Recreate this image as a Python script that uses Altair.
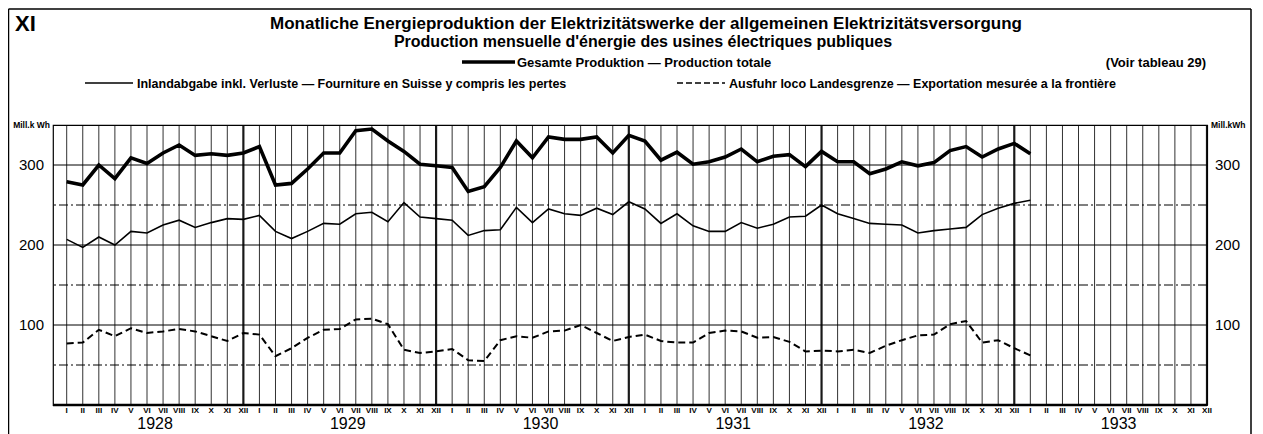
import altair as alt
import pandas as pd

# ---------------- data (Mill. kWh), Jan 1928 .. Jan 1933 ----------------
roman = ["I", "II", "III", "IV", "V", "VI", "VII", "VIII", "IX", "X", "XI", "XII"]
years = [1928, 1929, 1930, 1931, 1932, 1933]

total = [279, 275, 300, 283, 309, 302, 315, 325, 312, 314, 312, 315,
         323, 275, 277, 295, 315, 315, 343, 345, 330, 317, 301, 299,
         297, 267, 273, 297, 330, 309, 335, 332, 332, 335, 315, 337,
         330, 306, 316, 301, 304, 310, 320, 304, 311, 313, 298, 317,
         304, 304, 289, 295, 304, 299, 303, 318, 323, 310, 320, 327,
         314]

inland = [207, 197, 210, 200, 217, 215, 225, 231, 222, 228, 233, 232,
          237, 217, 208, 217, 227, 226, 239, 241, 229, 253, 235, 233,
          231, 212, 218, 219, 247, 228, 245, 239, 237, 246, 238, 254,
          245, 227, 239, 224, 217, 217, 228, 221, 226, 235, 236, 250,
          239, 233, 227, 226, 225, 215, 218, 220, 222, 238, 246, 252,
          256]

export = [77, 78, 94, 86, 96, 90, 92, 95, 92, 86, 80, 90,
          88, 61, 71, 84, 94, 95, 107, 108, 101, 69, 65, 67,
          70, 56, 55, 81, 86, 84, 92, 93, 100, 90, 80, 85,
          88, 80, 78, 78, 90, 93, 92, 84, 85, 79, 67, 68,
          67, 69, 65, 74, 81, 87, 88, 101, 105, 78, 81, 71,
          62]

y_labels = [100, 200, 300]
y_grid_solid = [100, 200, 300]
y_grid_dash = [50, 150, 250]

# ---------------- tables ----------------
n = len(total)
series = pd.DataFrame({"idx": list(range(n)), "total": total, "inland": inland, "export": export})

months = pd.DataFrame({
    "idx": list(range(12 * len(years))),
    "label": [roman[i % 12] for i in range(12 * len(years))],
    "dec": [(i % 12) == 11 for i in range(12 * len(years))],
})
year_df = pd.DataFrame({"idx": [12 * k + 5.5 for k in range(len(years))],
                        "label": [str(y) for y in years]})

W, H = 1154, 280
FONT = "Liberation Sans"

xs = alt.Scale(domain=[-0.853, 71], nice=False, zero=False)
ys = alt.Scale(domain=[0, 350], nice=False, zero=True)

X = alt.X("idx:Q", scale=xs, axis=None)

# grid
vlines = alt.Chart(months).mark_rule(color="black", opacity=0.9).encode(
    x=X,
    strokeWidth=alt.condition("datum.dec", alt.value(2.2), alt.value(0.9)),
)
hsolid = alt.Chart(pd.DataFrame({"v": y_grid_solid})).mark_rule(color="black", strokeWidth=1).encode(
    y=alt.Y("v:Q", scale=ys, axis=None))
hdash = alt.Chart(pd.DataFrame({"v": y_grid_dash})).mark_rule(
    color="black", strokeWidth=1, strokeDash=[9, 3, 2, 3]).encode(
    y=alt.Y("v:Q", scale=ys, axis=None))
bottom = alt.Chart(pd.DataFrame({"v": [0]})).mark_rule(color="black", strokeWidth=2.5).encode(
    y=alt.Y("v:Q", scale=ys, axis=None))

# series
l_total = alt.Chart(series).mark_line(color="black", strokeWidth=3.6, strokeJoin="miter").encode(
    x=X, y=alt.Y("total:Q", scale=ys, axis=None))
l_inland = alt.Chart(series).mark_line(color="black", strokeWidth=1.6).encode(
    x=X, y=alt.Y("inland:Q", scale=ys, axis=None))
l_export = alt.Chart(series).mark_line(color="black", strokeWidth=2, strokeDash=[7, 4]).encode(
    x=X, y=alt.Y("export:Q", scale=ys, axis=None))

# axis labels
ylab_df = pd.DataFrame({"v": y_labels, "t": [str(v) for v in y_labels]})
ylab_left = alt.Chart(ylab_df).mark_text(font=FONT, fontSize=15, align="right", baseline="middle").encode(
    x=alt.value(-9), y=alt.Y("v:Q", scale=ys, axis=None), text="t:N")
ylab_right = alt.Chart(ylab_df).mark_text(font=FONT, fontSize=15, align="left", baseline="middle").encode(
    x=alt.value(W + 8), y=alt.Y("v:Q", scale=ys, axis=None), text="t:N")

mlab = alt.Chart(months).mark_text(font=FONT, fontSize=8, fontWeight="bold", baseline="middle").encode(
    x=X, y=alt.value(H + 6), text="label:N")
ylab = alt.Chart(year_df).mark_text(font=FONT, fontSize=16, baseline="alphabetic").encode(
    x=X, y=alt.value(H + 24), text="label:N")

one = pd.DataFrame({"a": [0]})


def txt(s, x, y, size, align="left", weight="bold"):
    return alt.Chart(one).mark_text(font=FONT, fontSize=size, fontWeight=weight, align=align,
                                    baseline="alphabetic").encode(
        x=alt.value(x), y=alt.value(y), text=alt.value(s))


def seg(x1, x2, y, width, dash=None):
    kw = dict(color="black", strokeWidth=width)
    if dash:
        kw["strokeDash"] = dash
    return alt.Chart(one).mark_rule(**kw).encode(x=alt.value(x1), x2=alt.value(x2), y=alt.value(y))


def vseg(x, y1, y2, width):
    return alt.Chart(one).mark_rule(color="black", strokeWidth=width).encode(
        x=alt.value(x), y=alt.value(y1), y2=alt.value(y2))


deco = [
    txt("XI", -38, -94, 22),
    txt("Monatliche Energieproduktion der Elektrizitätswerke der allgemeinen Elektrizitätsversorgung",
        593, -96, 17, align="center"),
    txt("Production mensuelle d'énergie des usines électriques publiques", 590, -78, 16, align="center"),
    seg(409, 462, -63, 3.5),
    txt("Gesamte Produktion — Production totale", 464, -58, 13),
    txt("(Voir tableau 29)", 1153, -58, 13, align="right"),
    seg(32, 80, -42, 1.5),
    txt("Inlandabgabe inkl. Verluste — Fourniture en Suisse y compris les pertes", 84, -37, 12.5),
    seg(624, 672, -42, 1.5, dash=[6, 3]),
    txt("Ausfuhr loco Landesgrenze — Exportation mesurée a la frontière", 676, -37, 12.5),
    txt("Mill.k Wh", -3, 3, 8.5, align="right"),
    txt("Mill.kWh", W + 4, 3, 8.5),
    vseg(-44.5, -116, H + 45, 1.5),
    vseg(W + 44, -116, H + 45, 1.5),
    seg(-44.5, W + 44, -116, 1.5),
]

chart = alt.layer(
    vlines, hdash, hsolid, bottom,
    l_inland, l_export, l_total,
    ylab_left, ylab_right, mlab, ylab,
    *deco,
).properties(
    width=W, height=H,
    autosize=alt.AutoSizeParams(type="none"),
    padding={"left": 45, "top": 117, "right": 46, "bottom": 29},
    background="white",
).configure_view(stroke="black", strokeWidth=1.2)

chart.save("out.html", embed_options={"renderer": "svg", "actions": False})
